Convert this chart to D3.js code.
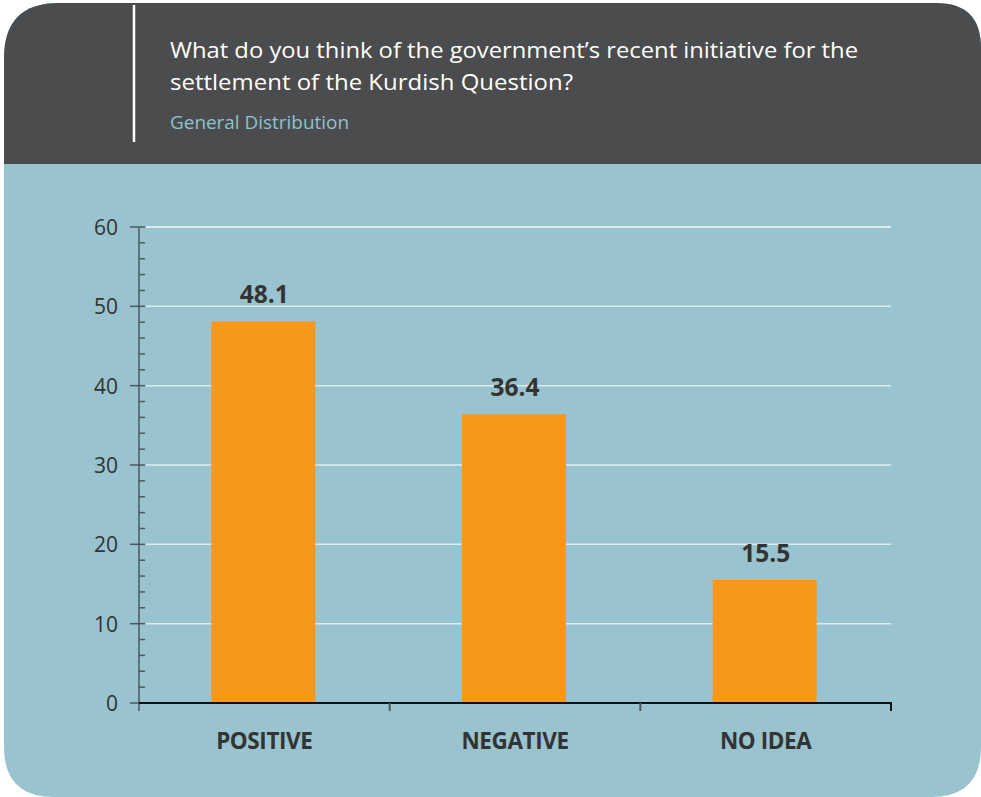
<!DOCTYPE html>
<html><head><meta charset="utf-8">
<script src="https://cdn.jsdelivr.net/npm/d3@7"></script>
<style>body{margin:0;background:#fff}svg{display:block}</style>
</head><body>
<script>
const categories = ["POSITIVE", "NEGATIVE", "NO IDEA"];
const values = [48.1, 36.4, 15.5];
const yTicks = [0, 10, 20, 30, 40, 50, 60];
const titleLines = ["What do you think of the government\u2019s recent initiative for the", "settlement of the Kurdish Question?"];
const subtitle = "General Distribution";

const W = 981, H = 797;
const svg = d3.select("body").append("svg").attr("width", W).attr("height", H);
const font = "'Open Sans', 'Noto Sans', sans-serif";

// card shape with individual radii
const x0 = 4, y0 = 3, x1 = 981, y1 = 797;
const rTL = 55, rTR = 45, rBR = 50, rBL = 50;
function card(top, bottom, roundTop, roundBottom) {
  const tl = roundTop ? rTL : 0, tr = roundTop ? rTR : 0, br = roundBottom ? rBR : 0, bl = roundBottom ? rBL : 0;
  return `M${x0 + tl},${top} L${x1 - tr},${top} Q${x1},${top} ${x1},${top + tr} L${x1},${bottom - br} Q${x1},${bottom} ${x1 - br},${bottom} L${x0 + bl},${bottom} Q${x0},${bottom} ${x0},${bottom - bl} L${x0},${top + tl} Q${x0},${top} ${x0 + tl},${top} Z`;
}
svg.append("path").attr("d", card(y0, y1, true, true)).attr("fill", "#98c3cf");
svg.append("path").attr("d", card(y0, 164, true, false)).attr("fill", "#4b4c4e");

svg.append("line").attr("x1", 134).attr("x2", 134).attr("y1", 5).attr("y2", 142)
  .attr("stroke", "#ffffff").attr("stroke-width", 2.5);

const titleWidths = [688, 403];
svg.selectAll("text.title").data(titleLines).join("text")
  .attr("x", 170).attr("y", (d, i) => 58 + i * 32)
  .attr("fill", "#ffffff").attr("font-family", font).attr("font-size", 22.5)
  .attr("textLength", (d, i) => titleWidths[i])
  .attr("lengthAdjust", "spacingAndGlyphs")
  .text(d => d);
svg.append("text").attr("x", 170).attr("y", 129).attr("fill", "#8fc2cf")
  .attr("font-family", font).attr("font-size", 18.5)
  .attr("textLength", 179).attr("lengthAdjust", "spacingAndGlyphs").text(subtitle);

// scales
const y = d3.scaleLinear().domain([0, 60]).range([703, 227]);
const x = d3.scaleBand().domain(categories).range([139, 891]).paddingInner(0).paddingOuter(0);
const barW = 104;

// gridlines
svg.selectAll("line.grid").data(yTicks.filter(t => t > 0)).join("line")
  .attr("x1", 146).attr("x2", 891)
  .attr("y1", d => y(d)).attr("y2", d => y(d))
  .attr("stroke", d => d === 60 ? "#f4f9fa" : "#dcecf0").attr("stroke-width", 1.5);

// bars
svg.selectAll("rect.bar").data(values).join("rect")
  .attr("x", (d, i) => x(categories[i]) + x.bandwidth() / 2 - barW / 2 - 1)
  .attr("width", barW)
  .attr("y", d => y(d)).attr("height", d => y(0) - y(d))
  .attr("fill", "#f7981d");

// value labels
svg.selectAll("text.val").data(values).join("text")
  .attr("x", (d, i) => x(categories[i]) + x.bandwidth() / 2)
  .attr("y", d => y(d) - 18)
  .attr("text-anchor", "middle").attr("font-family", font).attr("font-weight", 700)
  .attr("font-size", 24.5).attr("fill", "#333333")
  .text(d => d.toFixed(1));

// y axis
const minor = d3.range(0, 61, 2).filter(v => v % 10 !== 0);
svg.append("line").attr("x1", 139).attr("x2", 139).attr("y1", y(60)).attr("y2", 711)
  .attr("stroke", "#4a5a60").attr("stroke-width", 1.5);
svg.selectAll("line.minor").data(minor).join("line")
  .attr("x1", 139).attr("x2", 145).attr("y1", d => y(d)).attr("y2", d => y(d))
  .attr("stroke", "#4a5a60").attr("stroke-width", 1.5);
svg.selectAll("line.major").data(yTicks).join("line")
  .attr("x1", 130).attr("x2", 145).attr("y1", d => y(d)).attr("y2", d => y(d))
  .attr("stroke", "#4a5a60").attr("stroke-width", 1.5);
svg.selectAll("text.ytick").data(yTicks).join("text")
  .attr("x", 118).attr("y", d => y(d) + 8)
  .attr("text-anchor", "end").attr("font-family", font).attr("font-size", 21)
  .attr("fill", "#333333").text(d => d);

// x axis
svg.append("line").attr("x1", 139).attr("x2", 892).attr("y1", y(0)).attr("y2", y(0))
  .attr("stroke", "#111111").attr("stroke-width", 2);
const bounds = categories.map(c => x(c)).concat([891]).slice(1);
svg.selectAll("line.xtick").data(bounds).join("line")
  .attr("x1", d => d).attr("x2", d => d).attr("y1", y(0)).attr("y2", 711)
  .attr("stroke", (d, i) => i === bounds.length - 1 ? "#111111" : "#4a5a60").attr("stroke-width", 2);
svg.selectAll("text.cat").data(categories).join("text")
  .attr("x", d => x(d) + x.bandwidth() / 2).attr("y", 749)
  .attr("text-anchor", "middle").attr("font-family", font).attr("font-weight", 700)
  .attr("font-size", 22.5).attr("fill", "#333333")
  .attr("letter-spacing", -0.4)
  .text(d => d);
</script>
</body></html>
